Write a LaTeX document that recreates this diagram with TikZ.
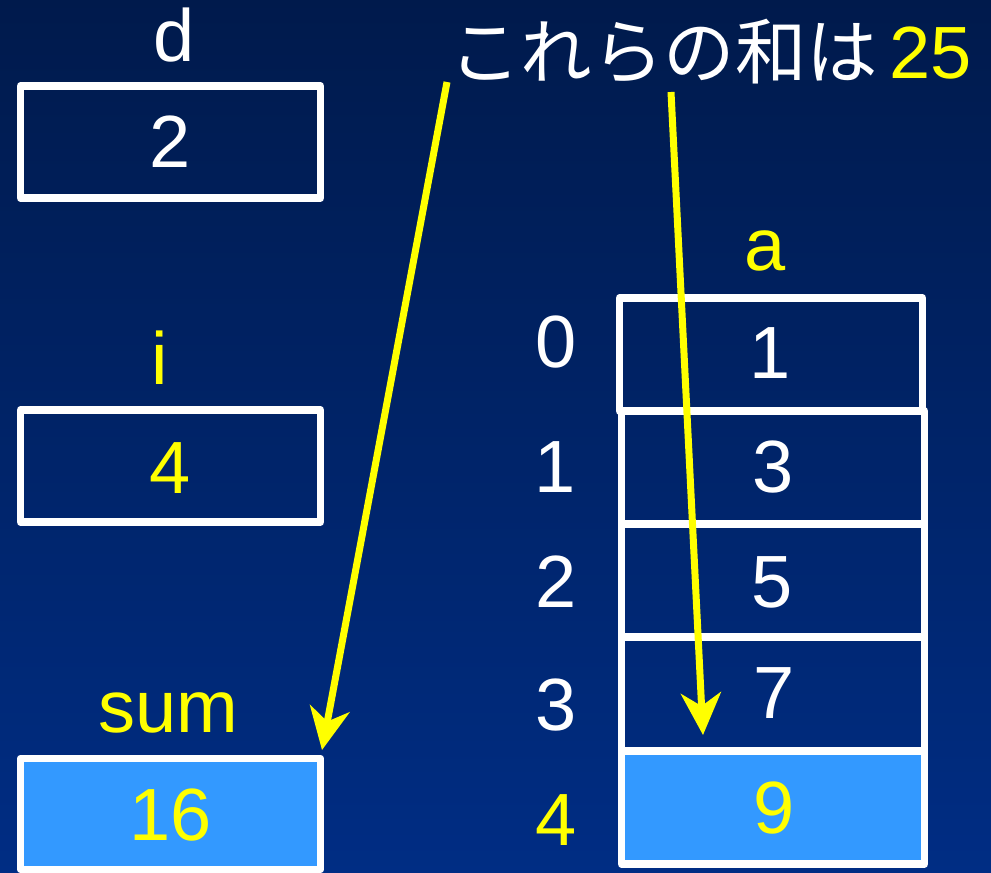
\documentclass[tikz,border=0pt]{standalone}
\usepackage{fontspec}
\setmainfont{Liberation Sans}
\newfontfamily\jp{Noto Sans CJK JP}
\usetikzlibrary{arrows.meta}
\definecolor{bgtop}{HTML}{001A4C}
\definecolor{bgbot}{HTML}{002D84}
\definecolor{cellblue}{HTML}{3399FF}
\definecolor{yel}{HTML}{FFFF00}
\begin{document}
\begin{tikzpicture}[x=1pt,y=-1pt,
  box/.style={draw=white,line width=7.5pt,line join=round,minimum width=300pt,minimum height=112pt,inner sep=0pt},
  cell/.style={draw=white,line width=7.5pt,line join=round,minimum width=303pt,minimum height=113pt,inner sep=0pt},
  txt/.style={inner sep=0pt,font=\fontsize{74}{80}\selectfont},
  ptr/.style={draw=yel,line width=7pt,-{Stealth[length=42pt,width=40pt,inset=13pt]}}]
\shade[top color=bgtop,bottom color=bgbot] (0,0) rectangle (991,873);
\useasboundingbox (0,0) rectangle (991,873);
% scalar boxes
\node[box] (dbox) at (170.5,142) {};
\node[box] (ibox) at (170.5,466) {};
\node[box,fill=cellblue,minimum height=111pt] (sumbox) at (170.5,814) {};
\node[txt,white] (dlab) at (174.5,35.5) {d};
\node[txt,white] (dval) at (170,141.5) {2};
\node[txt,yel] (ilab) at (160,358) {i};
\node[txt,yel] (ival) at (170,468) {4};
\node[txt,yel] (sumlab) at (168,713) {sum};
\node[txt,yel] (sumval) at (171,815) {16};
% array
\node[cell] (a0) at (771,354.5) {};
\node[cell] (a1) at (773,467.5) {};
\node[cell] (a2) at (773,580.5) {};
\node[cell] (a3) at (773,694) {};
\node[cell,fill=cellblue] (a4) at (773,807.5) {};
\node[txt,yel] (alab) at (765,251) {a};
\node[txt,white] (v0) at (770,353.5) {1};
\node[txt,white] (v1) at (773,467) {3};
\node[txt,white] (v2) at (772,582) {5};
\node[txt,white] (v3) at (774,693.5) {7};
\node[txt,yel] (v4) at (774.5,808.5) {9};
\node[txt,white] (i0) at (556,342) {0};
\node[txt,white] (i1) at (555,467) {1};
\node[txt,white] (i2) at (556,582) {2};
\node[txt,white] (i3) at (556,705) {3};
\node[txt,yel] (i4) at (556,820) {4};
% title
\node[inner sep=0pt,anchor=base west,white] (title) at (449,78)
  {{\jp\fontsize{71.5}{76}\selectfont これらの和は}\hspace{11pt}{\color{yel}\fontsize{74}{80}\selectfont 25}};
\coordinate (s1) at (447,82);
\coordinate (s2) at (671,92);
\coordinate (e1) at (322,750);
\coordinate (e2) at (703,735);
\draw[ptr] (s1) -- (e1);
\draw[ptr] (s2) -- (e2);
\end{tikzpicture}
\end{document}
